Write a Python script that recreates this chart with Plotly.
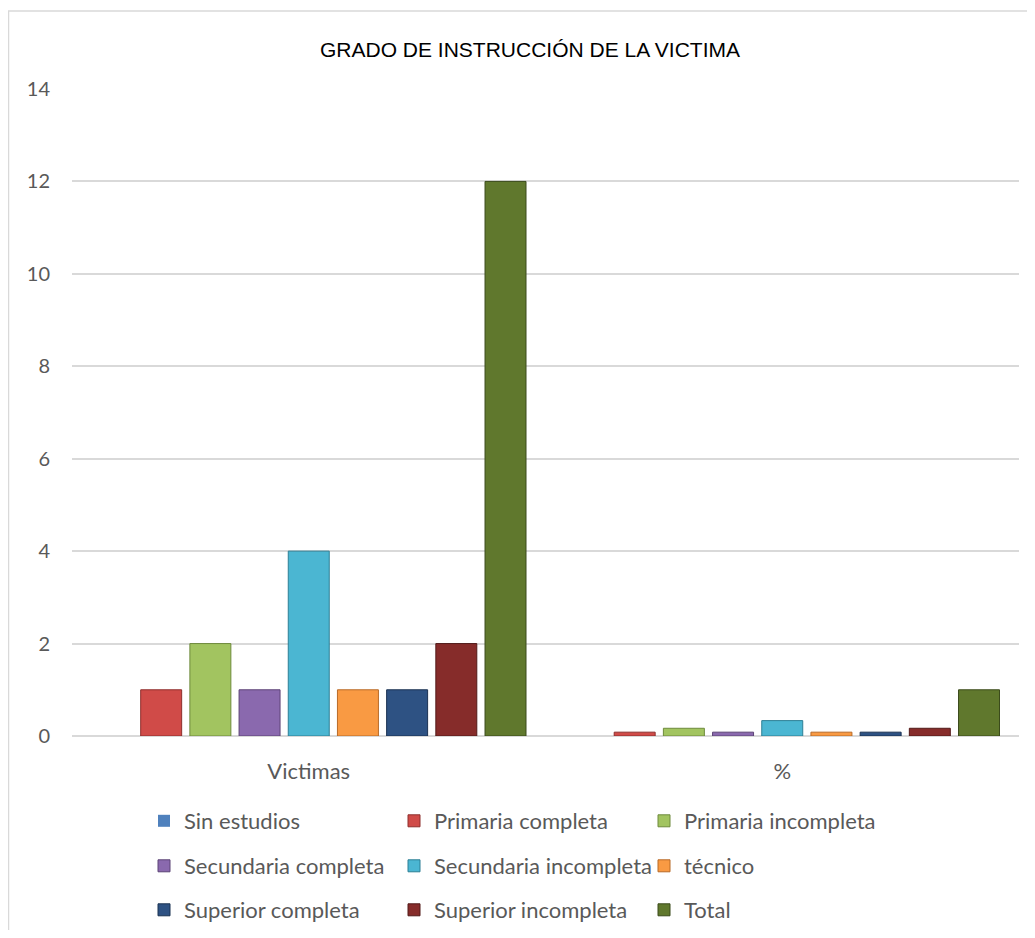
import plotly.graph_objects as go

categories = ["Victimas", "%"]
series_names = ["Sin estudios", "Primaria completa", "Primaria incompleta",
                "Secundaria completa", "Secundaria incompleta", "técnico",
                "Superior completa", "Superior incompleta", "Total"]
victimas = [0, 1, 2, 1, 4, 1, 1, 2, 12]
porcentaje = [0, 0.083, 0.167, 0.083, 0.333, 0.083, 0.083, 0.167, 1]
y_ticks = [0, 2, 4, 6, 8, 10, 12, 14]

colors = ["#4F81BD", "#D04B48", "#A2C460", "#8A69AE", "#4BB6D2", "#F99A43",
          "#2E5283", "#862C2A", "#60782D"]
edges = ["#34567F", "#8E2F2D", "#6E8A3C", "#5C4476", "#2D7F95", "#B86A27",
         "#1B3252", "#521A19", "#3B4B1B"]

# page body has an 8px margin: figure coords = reference coords - 8
OFF = 8
W, H = 1035 - 2 * OFF, 938 - 2 * OFF
L = 72 - OFF
R = W - (1019 - OFF)
T = 89 - OFF
B = H - (736 - OFF)
pw, ph = W - L - R, H - T - B

fig = go.Figure()
legends = ["legend", "legend", "legend", "legend2", "legend2", "legend2",
           "legend3", "legend3", "legend3"]
for i, name in enumerate(series_names):
    fig.add_trace(go.Bar(
        x=categories, y=[victimas[i], porcentaje[i]], name=name,
        marker=dict(color=colors[i], line=dict(color=edges[i], width=1 if i else 0)),
        legend=legends[i],
    ))

font_main = "Lato, 'Open Sans', Arial, sans-serif"
leg_common = dict(orientation="h", xanchor="left", yanchor="middle",
                  entrywidth=205, entrywidthmode="pixels", itemwidth=30,
                  font=dict(family=font_main, size=22, color="#595959"),
                  bgcolor="rgba(0,0,0,0)", traceorder="normal",
                  yref="container")
lx = (144 - OFF - L) / pw


def ly(ry):
    return (T + ph - (ry - OFF)) / ph


def cy(ry):
    return 1 - (ry - OFF) / H


def px_x(rx):
    return (rx - OFF - L) / pw


fig.update_layout(
    width=W, height=H,
    margin=dict(l=L, r=R, t=T, b=B, pad=0),
    paper_bgcolor="white", plot_bgcolor="white",
    title=dict(text="GRADO DE INSTRUCCIÓN DE LA VICTIMA",
               font=dict(family="'Liberation Sans', Arial, sans-serif",
                         size=21, color="#000000"),
               x=(530 - OFF) / W, xanchor="center", y=1 - (50 - OFF) / H, yanchor="middle"),
    barmode="group", bargap=0.065, bargroupgap=0.167,
    xaxis=dict(showgrid=False, showline=False, ticks="", ticklabelstandoff=20,
               tickfont=dict(family=font_main, size=22, color="#595959")),
    yaxis=dict(range=[0, 14], tickvals=y_ticks, showgrid=True, gridcolor="#D9D9D9",
               gridwidth=1.5, zeroline=True, zerolinecolor="#D9D9D9", zerolinewidth=2,
               showline=False, ticks="", ticklabelstandoff=21,
               tickfont=dict(family=font_main, size=20, color="#595959")),
    legend=dict(x=lx, y=cy(821), **leg_common),
    legend2=dict(x=lx, y=cy(866), **leg_common),
    legend3=dict(x=lx, y=cy(910), **leg_common),
    shapes=[dict(type="rect", xref="paper", yref="paper",
                 x0=px_x(8.5), x1=px_x(1060),
                 y0=ly(960), y1=ly(11),
                 line=dict(color="#D9D9D9", width=1.5), layer="below")],
)

fig.write_html("out.html")
